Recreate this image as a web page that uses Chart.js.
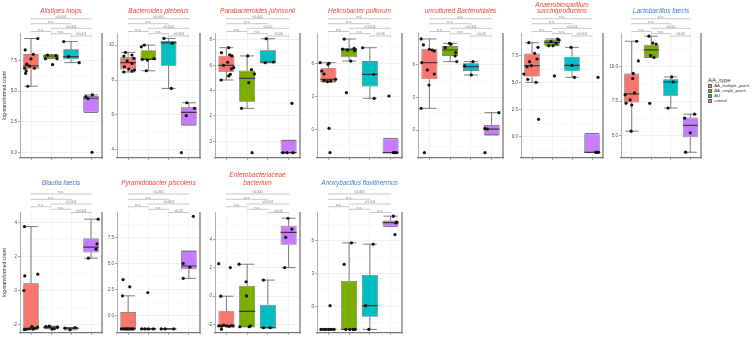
<!DOCTYPE html>
<html><head><meta charset="utf-8">
<script src="https://cdn.jsdelivr.net/npm/chart.js@4.4.1/dist/chart.umd.min.js"></script>
<style>
html,body{margin:0;padding:0;background:#fff;width:755px;height:341px;overflow:hidden;position:relative;}
canvas{position:absolute;}
.lg{position:absolute;font-family:"Liberation Sans",Arial,sans-serif;color:#333;white-space:nowrap;}
.lk{position:absolute;width:4px;height:4px;border:0.6px solid #666;box-sizing:border-box;}
</style></head><body>
<div class="lg" style="left:708px;top:76.5px;font-size:6px;line-height:7px;">AA_type</div>
<div id="legendItems"></div>
<script>
// ---------- groups ----------
const groupNames = ['AA_multiple_patch','AA_single_patch','AU','control'];
const groupColors = ['#F8766D','#7CAE00','#00BFC4','#C77CFF'];
const sigPairs = [[1,4],[1,3],[2,4],[1,2],[2,3],[3,4]];

// ---------- Alistipes inops ----------
const alistipes_title = ['Alistipes inops'];
const alistipes_points = [[9.3,8.37,8.01,7.63,7.2,7.05,6.87,6.87,6.65,6.46,5.4],[7.95,7.9,7.65,7.65,7.17],[9.05,7.82,7.33],[4.55,4.39,4.69,0.0]];
const alistipes_jitter = [[0.34,-0.29,0.12,0.0,-0.21,-0.07,-0.32,0.17,-0.24,-0.27,-0.16],[-0.17,0.25,-0.28,0.3,0.08],[-0.36,-0.12,0.41],[-0.26,-0.15,0.07,0.05]];
const alistipes_box = [[5.4,6.78,7.06,8.04,9.3],[7.66,7.66,7.87,7.98,7.98],[7.33,7.6,7.82,8.42,9.05],[3.26,3.26,4.42,4.6,4.69]];
const alistipes_range = [-0.46,9.75];
const alistipes_ticks = [0,2.5,5,7.5];
const alistipes_tickLabels = ['0.0','2.5','5.0','7.5'];
const alistipes_minor = [1.25,3.75,6.25,8.75];
const alistipes_sig = ['<0.001','n.s.','<0.001','n.s.','n.s.','<0.001'];

// ---------- Bacteroides plebeius ----------
const plebeius_title = ['Bacteroides plebeius'];
const plebeius_points = [[9.58,9.43,9.37,9.24,9.09,8.95,8.76,8.63,8.51,8.46,8.57],[10.0,9.9,9.22,9.18,9.14,8.53],[10.38,10.1,7.52],[6.7,6.38,5.96,3.85]];
const plebeius_jitter = [[-0.13,0.19,-0.21,0.28,-0.05,0.19,-0.18,0.03,0.19,-0.21,0.31],[-0.2,-0.35,0.28,-0.3,-0.05,-0.1],[-0.23,0.18,0.13],[-0.1,0.28,-0.13,-0.37]];
const plebeius_box = [[8.46,8.6,8.99,9.3,9.58],[8.53,9.14,9.18,9.71,10.0],[7.52,8.82,10.12,10.23,10.38],[5.42,5.42,6.15,6.44,6.7]];
const plebeius_range = [3.54,10.69];
const plebeius_ticks = [4,6,8,10];
const plebeius_tickLabels = ['4','6','8','10'];
const plebeius_minor = [5,7,9];
const plebeius_sig = ['<0.001','n.s.','<0.001','n.s.','n.s.','<0.001'];

// ---------- Parabacteroides johnsonii ----------
const johnsonii_title = ['Parabacteroides johnsonii'];
const johnsonii_points = [[7.39,7.0,6.82,6.74,6.24,6.0,5.82,5.71,5.29,5.16,4.84],[6.74,5.66,5.32,4.63,2.6,-0.9],[8.1,6.26,6.2],[-0.9,-0.9,-0.9,3.0]];
const johnsonii_jitter = [[0.11,-0.24,0.16,0.27,0.06,-0.13,0.35,0.24,0.19,0.11,-0.25],[0.03,0.21,0.35,0.08,-0.27,0.24],[-0.08,0.27,-0.13],[-0.27,-0.08,0.21,0.16]];
const johnsonii_box = [[4.84,5.5,6.0,6.76,7.39],[2.6,3.12,4.97,5.58,6.74],[6.2,6.23,6.26,7.18,8.1],[-0.9,-0.9,-0.9,0.08,0.08]];
const johnsonii_range = [-1.32,8.55];
const johnsonii_ticks = [0,2,4,6,8];
const johnsonii_tickLabels = ['0','2','4','6','8'];
const johnsonii_minor = [-1,1,3,5,7];
const johnsonii_sig = ['<0.001','n.s.','<0.05','n.s.','n.s.','<0.05'];

// ---------- Helicobacter pullorum ----------
const pullorum_title = ['Helicobacter pullorum'];
const pullorum_points = [[6.06,6.0,5.91,5.3,5.03,4.55,4.45,4.39,4.33,0.09,-2.12],[8.21,7.36,7.3,7.21,7.15,6.21,3.33],[7.42,5.0,2.82],[-2.12,-2.12,-2.12,3.03]];
const pullorum_jitter = [[-0.4,0.03,-0.02,-0.32,-0.21,0.35,-0.21,0.11,-0.05,0.03,0.08],[-0.24,0.24,-0.32,-0.08,0.27,0.08,-0.13],[-0.35,0.18,0.21],[0.13,0.29,0.2,-0.08]];
const pullorum_box = [[4.3,4.3,4.55,5.55,6.06],[6.21,6.55,7.25,7.4,8.21],[2.82,3.9,5.0,6.21,7.42],[-2.12,-2.12,-2.12,-0.83,-0.83]];
const pullorum_range = [-2.61,8.76];
const pullorum_ticks = [0,3,6];
const pullorum_tickLabels = ['0','3','6'];
const pullorum_minor = [-1.5,1.5,4.5,7.5];
const pullorum_sig = ['n.s.','n.s.','<0.001','n.s.','n.s.','<0.05'];

// ---------- uncultured Bacteroidales ----------
const bacteroidales_title = ['uncultured Bacteroidales'];
const bacteroidales_points = [[8.4,7.85,7.45,7.38,7.29,6.22,5.54,5.17,4.15,2.0,-2.09],[8.0,7.91,7.6,7.14,6.83,6.31],[6.31,5.91,5.08],[1.6,0.15,0.09,-2.09]];
const bacteroidales_jitter = [[-0.4,-0.29,0.0,0.14,0.24,-0.37,-0.1,0.24,-0.02,-0.4,-0.24],[-0.03,0.04,-0.24,0.27,0.24,0.32],[0.1,-0.3,0.02],[0.35,-0.32,-0.21,-0.32]];
const bacteroidales_box = [[2.0,4.68,6.22,7.45,8.4],[6.31,6.83,7.38,7.75,8.0],[5.08,5.45,5.85,6.15,6.31],[-0.46,-0.46,0.08,0.46,1.6]];
const bacteroidales_range = [-2.58,8.95];
const bacteroidales_ticks = [0,3,6];
const bacteroidales_tickLabels = ['0','3','6'];
const bacteroidales_minor = [-1.5,1.5,4.5,7.5];
const bacteroidales_sig = ['n.s.','n.s.','<0.001','n.s.','n.s.','<0.05'];

// ---------- Anaerobiospirillum succiniproducens ----------
const anaerobio_title = ['Anaerobiospirillum','succiniproducens'];
const anaerobio_points = [[8.7,8.27,7.72,7.19,6.94,6.57,6.48,5.8,5.31,5.03,1.6],[9.04,8.95,8.8,8.64,8.43,8.43,5.62],[8.27,6.6,5.49],[-1.45,-1.45,-1.45,5.49]];
const anaerobio_jitter = [[-0.16,0.3,0.13,0.25,-0.12,-0.03,-0.25,-0.41,-0.21,0.2,0.33],[0.28,0.36,-0.05,0.21,-0.16,0.05,0.12],[-0.05,0.0,0.12],[0.18,0.33,0.25,0.3]];
const anaerobio_box = [[5.03,5.56,6.57,7.7,8.7],[8.43,8.43,8.73,8.95,9.04],[5.49,6.05,6.6,7.41,8.27],[-1.45,-1.45,-1.45,0.29,0.29]];
const anaerobio_range = [-1.98,9.6];
const anaerobio_ticks = [0,2.5,5,7.5];
const anaerobio_tickLabels = ['0.0','2.5','5.0','7.5'];
const anaerobio_minor = [-1.25,1.25,3.75,6.25,8.75];
const anaerobio_sig = ['n.s.','n.s.','<0.001','n.s.','n.s.','<0.001'];

// ---------- Lactobacillus faecis ----------
const lacto_title = ['Lactobacillus faecis'];
const lacto_points = [[11.85,10.42,9.51,9.14,8.1,7.96,7.59,7.22,5.32,7.35],[12.22,11.72,11.65,10.81,10.67,7.34],[9.26,8.89,7.0],[6.55,6.26,5.2,3.79]];
const lacto_jitter = [[0.25,0.34,0.08,0.05,0.14,-0.34,-0.08,0.0,-0.03,-0.29],[-0.12,0.08,0.25,-0.03,0.14,-0.08],[0.05,0.12,-0.14],[0.22,-0.29,0.0,-0.24]];
const lacto_box = [[5.32,7.41,8.03,9.51,11.85],[10.67,10.67,11.23,11.6,12.22],[7.0,7.9,8.89,9.09,9.26],[3.79,4.88,5.74,6.31,6.55]];
const lacto_range = [3.37,12.45];
const lacto_ticks = [5,7.5,10];
const lacto_tickLabels = ['5.0','7.5','10.0'];
const lacto_minor = [3.75,6.25,8.75,11.25];
const lacto_sig = ['n.s.','n.s.','<0.05','n.s.','n.s.','<0.05'];

// ---------- Blautia faecis ----------
const blautia_title = ['Blautia faecis'];
const blautia_points = [[3.76,0.96,0.86,0.0,-2.3,-2.28,-2.25,-2.27,-2.22,-2.12,-2.15],[-2.12,-2.1,-2.27,-2.25,-2.16],[-2.21,-2.31,-2.18],[4.2,2.75,2.43,1.9]];
const blautia_jitter = [[-0.33,0.34,-0.31,-0.36,-0.33,-0.23,-0.07,0.1,0.18,0.05,0.33],[-0.25,-0.08,0.05,0.16,0.33],[-0.3,-0.05,0.2],[0.36,0.3,0.25,-0.13]];
const blautia_box = [[-2.3,-2.3,-2.22,0.43,3.76],[-2.25,-2.25,-2.16,-2.12,-2.1],[-2.31,-2.26,-2.21,-2.2,-2.18],[1.9,2.24,2.55,3.08,4.2]];
const blautia_range = [-2.5,4.62];
const blautia_ticks = [-2,0,2,4];
const blautia_tickLabels = ['-2','0','2','4'];
const blautia_minor = [-1,1,3];
const blautia_sig = ['n.s.','n.s.','<0.001','n.s.','n.s.','<0.001'];

// ---------- Pyramidobacter piscolens ----------
const pyramido_title = ['Pyramidobacter piscolens'];
const pyramido_points = [[3.44,2.75,1.88,-1.31,-1.31,-1.31,-1.31,-1.31,-1.31,-1.31,-1.31],[-1.31,-1.31,-1.31,-1.31,2.19],[-1.31,-1.31,-1.31],[9.53,5.0,4.63,3.56]];
const pyramido_jitter = [[-0.25,0.08,-0.28,-0.33,-0.22,-0.12,0.0,0.08,0.17,0.25,-0.08],[-0.33,-0.17,0.0,0.25,-0.03],[-0.37,-0.17,0.25],[0.22,-0.28,0.05,-0.28]];
const pyramido_box = [[-1.31,-1.31,-1.31,0.31,1.88],[-1.31,-1.31,-1.31,-1.31,-1.31],[-1.31,-1.31,-1.31,-1.31,-1.31],[3.56,4.44,4.75,6.19,6.19]];
const pyramido_range = [-1.7,9.95];
const pyramido_ticks = [0,2.5,5,7.5];
const pyramido_tickLabels = ['0.0','2.5','5.0','7.5'];
const pyramido_minor = [-1.25,1.25,3.75,6.25,8.75];
const pyramido_sig = ['<0.001','n.s.','<0.001','n.s.','n.s.','<0.05'];

// ---------- Enterobacteriaceae bacterium ----------
const entero_title = ['Enterobacteriaceae','bacterium'];
const entero_points = [[2.3,2.02,0.0,-2.09,-2.12,-2.05,-2.1,-2.14,-2.08,-2.1,-2.33],[2.26,1.02,0.02,-2.09,-2.16,-2.16],[1.14,-2.23,-2.23],[5.51,4.74,4.16,2.02]];
const entero_jitter = [[-0.37,0.19,-0.27,-0.37,-0.24,-0.13,0.0,0.13,0.24,0.32,-0.24],[-0.39,-0.05,-0.03,0.16,-0.35,0.1],[-0.21,-0.21,0.11],[-0.03,0.16,-0.14,-0.19]];
const entero_box = [[-2.09,-2.09,-2.09,-1.07,0.0],[-2.16,-2.16,-1.07,0.74,2.26],[-2.23,-2.23,-2.23,-0.6,1.14],[2.02,3.63,4.51,4.98,5.51]];
const entero_range = [-2.6,5.95];
const entero_ticks = [-2,0,2,4];
const entero_tickLabels = ['-2','0','2','4'];
const entero_minor = [-1,1,3,5];
const entero_sig = ['<0.001','n.s.','<0.001','n.s.','n.s.','<0.05'];

// ---------- Anoxybacillus flavithermus ----------
const anoxy_title = ['Anoxybacillus flavithermus'];
const anoxy_points = [[-2.12,-2.12,-2.12,-2.12,-2.12,-2.12,0.06],[5.82,3.85,-2.12,-2.12,-2.12,-2.12],[5.7,0.06,-2.12],[8.27,7.73,7.64,6.58]];
const anoxy_jitter = [[-0.36,-0.23,-0.11,0.02,0.13,0.26,0.08],[0.11,-0.24,-0.16,0.03,0.19,0.29],[0.16,-0.21,-0.05],[0.13,0.29,0.26,0.21]];
const anoxy_box = [[-2.12,-2.12,-2.12,-2.12,-2.12],[-2.12,-2.12,-2.12,2.33,5.82],[-2.12,-0.97,0.06,2.88,5.7],[7.33,7.33,7.67,7.88,8.27]];
const anoxy_range = [-2.45,8.65];
const anoxy_ticks = [0,3,6];
const anoxy_tickLabels = ['0','3','6'];
const anoxy_minor = [-1.5,1.5,4.5,7.5];
const anoxy_sig = ['<0.001','n.s.','<0.001','n.s.','n.s.','n.s.'];

// ---------- layout / style ----------
const RED = '#E8473A', BLUE = '#3F7FC6';
const FONT = '"Liberation Sans", Arial, sans-serif';
const colL = [20,117,215,317,418,521,621];
const colR = [102,200,300,402,503,603,701];
const rowTop = [0,170], rowT = [33,212], rowB = [158,333];
const bracketY = [[18.7,23.7,28.3,31.5,33.7,36],[24,29.3,34,36.7,39.3,42.5]];
const titleLayout = {
  '0-1': {lh: 1.0, pt: 7.75, pb: 18.75},
  '0-2': {lh: 6/6.5, pt: 2, pb: 19},
  '1-1': {lh: 1.0, pt: 9.75, pb: 25.75},
  '1-2': {lh: 8/6.5, pt: 1, pb: 25}
};

function P(title, color, row, col, pts, jit, box, range, ticks, labels, minor, sig){
  return {title, color, row, col, pts, jit, box, range, ticks, labels, minor, sig};
}
const panels = [
  P(alistipes_title, RED, 0, 0, alistipes_points, alistipes_jitter, alistipes_box, alistipes_range, alistipes_ticks, alistipes_tickLabels, alistipes_minor, alistipes_sig),
  P(plebeius_title, RED, 0, 1, plebeius_points, plebeius_jitter, plebeius_box, plebeius_range, plebeius_ticks, plebeius_tickLabels, plebeius_minor, plebeius_sig),
  P(johnsonii_title, RED, 0, 2, johnsonii_points, johnsonii_jitter, johnsonii_box, johnsonii_range, johnsonii_ticks, johnsonii_tickLabels, johnsonii_minor, johnsonii_sig),
  P(pullorum_title, RED, 0, 3, pullorum_points, pullorum_jitter, pullorum_box, pullorum_range, pullorum_ticks, pullorum_tickLabels, pullorum_minor, pullorum_sig),
  P(bacteroidales_title, RED, 0, 4, bacteroidales_points, bacteroidales_jitter, bacteroidales_box, bacteroidales_range, bacteroidales_ticks, bacteroidales_tickLabels, bacteroidales_minor, bacteroidales_sig),
  P(anaerobio_title, RED, 0, 5, anaerobio_points, anaerobio_jitter, anaerobio_box, anaerobio_range, anaerobio_ticks, anaerobio_tickLabels, anaerobio_minor, anaerobio_sig),
  P(lacto_title, BLUE, 0, 6, lacto_points, lacto_jitter, lacto_box, lacto_range, lacto_ticks, lacto_tickLabels, lacto_minor, lacto_sig),
  P(blautia_title, BLUE, 1, 0, blautia_points, blautia_jitter, blautia_box, blautia_range, blautia_ticks, blautia_tickLabels, blautia_minor, blautia_sig),
  P(pyramido_title, RED, 1, 1, pyramido_points, pyramido_jitter, pyramido_box, pyramido_range, pyramido_ticks, pyramido_tickLabels, pyramido_minor, pyramido_sig),
  P(entero_title, RED, 1, 2, entero_points, entero_jitter, entero_box, entero_range, entero_ticks, entero_tickLabels, entero_minor, entero_sig),
  P(anoxy_title, BLUE, 1, 3, anoxy_points, anoxy_jitter, anoxy_box, anoxy_range, anoxy_ticks, anoxy_tickLabels, anoxy_minor, anoxy_sig)
];

// ---------- legend ----------
const legendTops = [83.2, 88.2, 93.2, 98.2];
const li = document.getElementById('legendItems');
groupNames.forEach((g, i) => {
  const k = document.createElement('div');
  k.className = 'lk';
  k.style.left = '708.3px'; k.style.top = (legendTops[i] + 0.5) + 'px';
  k.style.background = groupColors[i];
  li.appendChild(k);
  const t = document.createElement('div');
  t.className = 'lg';
  t.style.left = '714.3px'; t.style.top = legendTops[i] + 'px';
  t.style.fontSize = '4.2px'; t.style.lineHeight = '5px';
  t.textContent = g;
  li.appendChild(t);
});

Chart.defaults.font.family = FONT;
const HALF_BOX = 0.385, CAP = 0.34;

panels.forEach(p => {
  const axW = p.col === 0 ? 20 : 16;
  const L = colL[p.col], R = colR[p.col];
  const top = rowTop[p.row], T = rowT[p.row], B = rowB[p.row];
  const W = R - L + axW + 3, H = B - top + 4;
  const cv = document.createElement('canvas');
  cv.width = W; cv.height = H;
  cv.style.left = (L - axW) + 'px'; cv.style.top = top + 'px';
  cv.style.width = W + 'px'; cv.style.height = H + 'px';
  document.body.appendChild(cv);

  const whisk = [], meds = [], boxes = [], pts = [];
  p.box.forEach((b, i) => {
    const g = i + 1;
    const [lo, q1, med, q3, hi] = b;
    whisk.push({x:g,y:lo},{x:g,y:q1},{x:g,y:null},
               {x:g,y:q3},{x:g,y:hi},{x:g,y:null},
               {x:g-CAP,y:hi},{x:g+CAP,y:hi},{x:g,y:null},
               {x:g-CAP,y:lo},{x:g+CAP,y:lo},{x:g,y:null});
    meds.push({x:g-HALF_BOX,y:med},{x:g+HALF_BOX,y:med},{x:g,y:null});
    boxes.push({x:g, y:[q1, q3]});
  });
  p.pts.forEach((arr, i) => arr.forEach((v, j) => pts.push({x: i + 1 + p.jit[i][j], y: v})));

  const allTicks = p.ticks.concat(p.minor).sort((a,b)=>a-b);
  const isMajor = v => p.ticks.some(t => Math.abs(t - v) < 1e-9);
  const lbl = v => { const k = p.ticks.findIndex(t => Math.abs(t - v) < 1e-9); return k >= 0 ? p.labels[k] : ''; };
  const tl = titleLayout[p.row + '-' + p.title.length];

  const extras = {
    id: 'extras',
    afterDraw(chart) {
      const ctx = chart.ctx, xs = chart.scales.x, ca = chart.chartArea;
      ctx.save();
      ctx.strokeStyle = '#777'; ctx.lineWidth = 1.3;
      ctx.beginPath(); ctx.moveTo(ca.right, ca.top); ctx.lineTo(ca.right, ca.bottom + 0.6); ctx.stroke();
      ctx.strokeStyle = '#a3a3a3'; ctx.lineWidth = 0.6; ctx.fillStyle = '#777';
      ctx.font = '3.6px ' + FONT; ctx.textAlign = 'center'; ctx.textBaseline = 'alphabetic';
      sigPairs.forEach(([a, b], k) => {
        const x1 = xs.getPixelForValue(a), x2 = xs.getPixelForValue(b), y = bracketY[p.row][k];
        ctx.beginPath(); ctx.moveTo(x1, y + 0.8); ctx.lineTo(x1, y); ctx.lineTo(x2, y); ctx.lineTo(x2, y + 0.8); ctx.stroke();
        ctx.fillText(p.sig[k], (x1 + x2) / 2, y - 0.8);
      });
      ctx.restore();
    }
  };

  new Chart(cv, {
    type: 'scatter',
    data: { datasets: [
      {type:'scatter', data: pts, pointRadius: 1.6, pointHoverRadius: 1.6, backgroundColor:'#111', pointBackgroundColor:'#111', borderWidth: 0, pointBorderWidth: 0, order: 0},
      {type:'line', data: meds, borderColor:'#3a3a3a', borderWidth: 1.2, pointRadius: 0, spanGaps: false, fill: false, order: 1},
      {type:'bar', data: boxes, backgroundColor: groupColors, borderColor:'#5c5c5c', borderWidth: 0.7, borderSkipped: false, barPercentage: 1, categoryPercentage: 0.77, order: 2},
      {type:'line', data: whisk, borderColor:'#5c5c5c', borderWidth: 0.8, pointRadius: 0, spanGaps: false, fill: false, order: 3}
    ]},
    options: {
      responsive: false, animation: false, devicePixelRatio: 1, events: [],
      layout: { padding: {left: 0, right: 3, top: 0, bottom: 0} },
      plugins: {
        legend: {display: false}, tooltip: {enabled: false},
        title: {display: true, text: p.title, color: p.color, fullSize: false, align: 'center',
                font: {family: FONT, size: 6.5, style: 'italic', weight: 'normal', lineHeight: tl.lh},
                padding: {top: tl.pt, bottom: tl.pb}}
      },
      scales: {
        x: {type:'linear', min: 0.45, max: 4.55, offset: false,
            afterBuildTicks: s => { s.ticks = [1,2,3,4].map(v => ({value: v})); },
            afterFit: s => { s.height = 4; },
            ticks: {callback: () => '', autoSkip: false, maxRotation: 0, padding: 0, font: {size: 2}},
            grid: {color:'#ebebeb', lineWidth: 0.6, tickLength: 2, tickColor:'#666', offset: false, drawTicks: true},
            border: {display: true, color:'#777', width: 1.2}},
        y: {type:'linear', min: p.range[0], max: p.range[1], beginAtZero: false,
            afterBuildTicks: s => { s.ticks = allTicks.map(v => ({value: v})); },
            afterFit: s => { s.width = axW; },
            ticks: {autoSkip: false, callback: v => lbl(v), font: {family: FONT, size: 4.5}, color:'#4d4d4d', padding: 1},
            grid: {color: c => (c.tick && isMajor(c.tick.value)) ? '#e6e6e6' : '#f3f3f3', lineWidth: 0.6, tickLength: 2,
                   tickColor: c => (c.tick && isMajor(c.tick.value)) ? '#666' : 'rgba(0,0,0,0)'},
            border: {display: true, color:'#999', width: 0.8},
            title: {display: p.col === 0, text: 'log-transformed count', color:'#333', font: {family: FONT, size: 5}, padding: {top: 2, bottom: 0}}}
      }
    },
    plugins: [extras]
  });
});
</script>
</body></html>
